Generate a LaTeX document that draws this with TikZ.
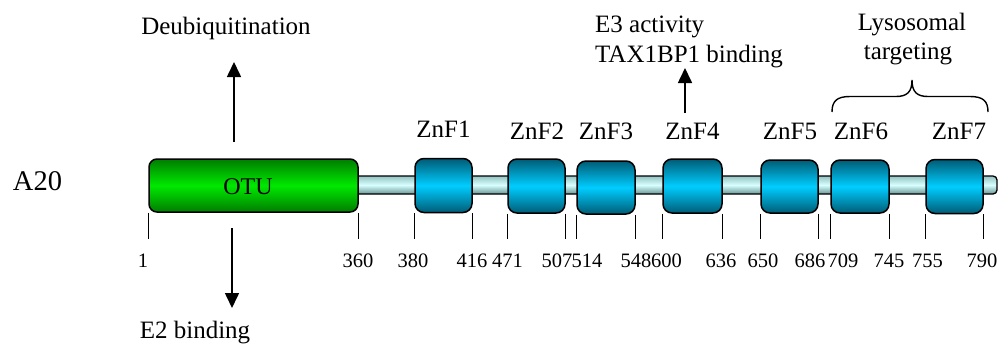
\documentclass[tikz,border=0pt]{standalone}
\usepackage{fontspec}
\setmainfont{Liberation Serif}
\usetikzlibrary{arrows.meta}
\definecolor{otudark}{RGB}{0,125,0}
\definecolor{otumid}{RGB}{0,232,0}
\definecolor{zndark}{RGB}{0,92,118}
\definecolor{znmid}{RGB}{0,205,255}
\definecolor{bartop}{RGB}{150,195,195}
\definecolor{barmid}{RGB}{215,255,255}
\definecolor{barbot}{RGB}{105,150,150}
\tikzset{
  mainfont/.style={font=\fontsize{25}{30}\selectfont},
  numfont/.style={font=\fontsize{20.5}{24}\selectfont},
  otubox/.style={draw=black, line width=1.5pt, rounded corners=8pt, inner sep=0pt,
     minimum width=209pt, minimum height=53pt,
     top color=otudark, bottom color=otudark, middle color=otumid},
  znbox/.style={draw=black, line width=1.5pt, rounded corners=9pt, inner sep=0pt,
     minimum width=57pt, minimum height=54pt,
     top color=zndark, bottom color=zndark, middle color=znmid},
  barbox/.style={draw=black, line width=1.3pt, rounded corners=4pt, inner sep=0pt,
     minimum width=647pt, minimum height=18pt,
     top color=bartop, bottom color=barbot, middle color=barmid},
  tick/.style={line width=1.2pt},
  arr/.style={line width=1.6pt, -{Triangle[length=15pt,width=14pt]}},
  txt/.style={mainfont, inner sep=0pt, anchor=base},
  num/.style={numfont, inner sep=0pt, anchor=base},
}
\begin{document}
\begin{tikzpicture}[x=1pt,y=-1pt]
\useasboundingbox (0,0) rectangle (1000,343);
% backbone
\node[barbox] (bar) at (673.5,185) {};
% OTU domain
\node[otubox] (otu) at (253.5,185.5) {};
\node[txt, font=\fontsize{24}{28}\selectfont] (otut) at (248,194) {OTU};
% zinc fingers
\node[znbox] (z1) at (443.5,185.5) {};
\node[znbox] (z2) at (536.5,186) {};
\node[znbox, minimum width=58pt, minimum height=53pt] (z3) at (606,187.5) {};
\node[znbox, minimum width=59pt] (z4) at (692.5,186) {};
\node[znbox, minimum height=53pt] (z5) at (789.5,186.5) {};
\node[znbox, minimum width=58pt, minimum height=53pt] (z6) at (860,186.5) {};
\node[znbox] (z7) at (954.5,186.5) {};
% ZnF labels
\node[txt] (zl1) at (443.5,137) {ZnF1};
\node[txt] (zl2) at (537,139) {ZnF2};
\node[txt] (zl3) at (606,139) {ZnF3};
\node[txt] (zl4) at (692.5,139) {ZnF4};
\node[txt] (zl5) at (790,139) {ZnF5};
\node[txt] (zl6) at (861,139) {ZnF6};
\node[txt] (zl7) at (959,139) {ZnF7};
% A20
\node[txt, font=\fontsize{28.5}{32}\selectfont] (a20) at (37.5,190) {A20};
% ticks
\foreach \b in {otu,z1,z2,z3,z4,z5,z6,z7}{
  \draw[tick] (\b.south west) -- (\b.south west |- 0,239);
  \draw[tick] (\b.south east) -- (\b.south east |- 0,239);
}
% numbers
\node[num] (n1) at (143,267) {1};
\node[num] (n360) at (358,267) {360};
\node[num] (n380) at (413,267) {380};
\node[num] (n416) at (472,267) {416};
\node[num] (n471) at (507.5,267) {471};
\node[num] (n507) at (557,267) {507};
\node[num] (n514) at (587,267) {514};
\node[num] (n548) at (636,267) {548};
\node[num] (n600) at (666.5,267) {600};
\node[num] (n636) at (721,267) {636};
\node[num] (n650) at (763,267) {650};
\node[num] (n686) at (810,267) {686};
\node[num] (n709) at (843,267) {709};
\node[num] (n745) at (889,267) {745};
\node[num] (n755) at (927.5,267) {755};
\node[num] (n790) at (982,267) {790};
% functional annotations
\node[txt] (deub) at (226,34) {Deubiquitination};
\node[txt] (e2) at (195,338) {E2 binding};
\node[txt, anchor=base west] (e3a) at (595,32) {E3 activity};
\node[txt, anchor=base west] (e3b) at (595,62) {TAX1BP1 binding};
\node[txt] (lys1) at (912,30) {Lysosomal};
\node[txt] (lys2) at (908,59) {targeting};
% arrows
\coordinate (deubs) at (234,142);
\coordinate (deube) at (234,62);
\coordinate (e2s) at (232,228);
\coordinate (e2e) at (232,308);
\coordinate (e3s) at (685,113);
\coordinate (e3e) at (685,68);
\draw[arr] (deubs) -- (deube);
\draw[arr] (e2s) -- (e2e);
\draw[arr] (e3s) -- (e3e);
% brace
\coordinate (brl) at (832,112);
\coordinate (brr) at (988,112);
\coordinate (brt) at (912,80);
\draw[line width=1.4pt]
  (brl) .. controls (832,101) and (837,96.5) .. (850,96.5) -- (896,96.5)
  .. controls (907,96.5) and (912,92) .. (brt)
  .. controls (912,92) and (917,96.5) .. (928,96.5) -- (970,96.5)
  .. controls (983,96.5) and (988,101) .. (brr);
\end{tikzpicture}
\end{document}
